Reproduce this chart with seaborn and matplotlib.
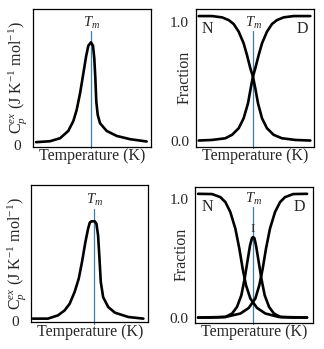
import matplotlib
matplotlib.use("Agg")
import matplotlib.pyplot as plt
import seaborn as sns

# ---------------- data ----------------
# Top-left: excess heat capacity, two-state transition
cp1_T = [2.3, 14.2, 22.7, 29.7, 34.0, 36.8, 39.7, 42.5, 44.8, 46.7, 49.0, 50.7, 51.8,
         52.7, 53.5, 54.7, 56.7, 62.3, 70.8, 82.2, 96.3]
cp1_val = [0.020, 0.027, 0.049, 0.103, 0.176, 0.257, 0.380, 0.527, 0.650, 0.730, 0.755,
           0.730, 0.637, 0.490, 0.319, 0.221, 0.159, 0.103, 0.066, 0.042, 0.025]
tm1 = 49.0

# Top-right: fractions N and D, two-state
fr1_N_T = [2.3, 13.6, 22.1, 27.8, 32.0, 36.3, 40.5, 43.3, 46.2, 48.4, 50.4, 52.7, 56.1,
           60.3, 66.0, 73.1, 84.4, 97.2]
fr1_N = [1.053, 1.053, 1.042, 1.019, 0.986, 0.921, 0.823, 0.725, 0.612, 0.542, 0.444,
         0.317, 0.191, 0.107, 0.051, 0.022, 0.008, 0.003]
fr1_D_T = [2.3, 13.6, 24.9, 30.6, 36.3, 40.5, 44.2, 46.5, 48.4, 50.4, 53.3, 56.1, 60.3,
           64.6, 68.8, 74.5, 83.0, 97.2]
fr1_D = [0.003, 0.008, 0.022, 0.051, 0.107, 0.191, 0.317, 0.444, 0.542, 0.612, 0.725,
         0.823, 0.921, 0.986, 1.019, 1.042, 1.053, 1.053]
tm2 = 48.4

# Bottom-left: excess heat capacity, three-state transition
cp2_T = [1.4, 14.3, 22.9, 28.6, 32.9, 37.1, 40.6, 43.4, 46.3, 48.6, 50.0, 51.4, 54.3,
         55.7, 57.1, 58.3, 59.4, 61.4, 65.7, 71.4, 82.9, 95.7]
cp2_val = [0.015, 0.015, 0.039, 0.076, 0.125, 0.211, 0.309, 0.432, 0.579, 0.677, 0.721,
           0.731, 0.731, 0.713, 0.628, 0.456, 0.285, 0.174, 0.101, 0.059, 0.027, 0.015]
tm3 = 53.4

# Bottom-right: fractions N, I and D, three-state
fr2_N_T = [2.3, 14.2, 21.3, 25.6, 29.8, 34.1, 37.5, 40.3, 43.2, 46.9, 52.6, 59.7, 71.0,
           82.4, 95.2]
fr2_N = [1.047, 1.045, 1.019, 0.977, 0.893, 0.753, 0.584, 0.416, 0.275, 0.163, 0.084,
         0.037, 0.008, 0.003, 0.003]
fr2_D_T = [2.3, 14.2, 25.6, 38.4, 45.5, 51.1, 54.5, 57.4, 60.2, 63.6, 67.9, 72.2, 76.4,
           83.5, 95.2]
fr2_D = [0.003, 0.003, 0.008, 0.037, 0.084, 0.163, 0.275, 0.416, 0.584, 0.753, 0.893,
         0.977, 1.019, 1.045, 1.047]
fr2_I_T = [2.3, 25.6, 31.3, 35.5, 39.2, 42.0, 44.3, 46.6, 48.3, 49.1, 50.3, 51.7, 54.0,
           56.3, 59.1, 62.8, 67.0, 72.7, 95.2]
fr2_I = [0.003, 0.008, 0.037, 0.093, 0.191, 0.331, 0.472, 0.612, 0.674, 0.682, 0.674,
         0.612, 0.472, 0.331, 0.191, 0.093, 0.037, 0.008, 0.003]
tm4 = 49.1

xlabel = "Temperature (K)"
cp_label = r"C$_p^{ex}$ (J K$^{-1}$ mol$^{-1}$)"
fr_label = "Fraction"
cp_ticks = [0]
cp_ticklabels = ["0"]
fr_ticks = [0.0, 1.0]
fr_ticklabels = ["0.0", "1.0"]

# ---------------- style ----------------
sns.set_style("white")
plt.rcParams["font.family"] = ["Liberation Serif", "DejaVu Serif"]
plt.rcParams["mathtext.fontset"] = "custom"
plt.rcParams["mathtext.rm"] = "Liberation Serif"
plt.rcParams["mathtext.it"] = "Liberation Serif:italic"

LINE = "black"
TMC = "#3a7fae"
LW = 1.9
FS = 11.5
TFS = 11

fig = plt.figure(figsize=(3.24, 3.49), dpi=100)
fig.patch.set_facecolor("white")

ax_tl = fig.add_axes([0.103, 0.580, 0.363, 0.394])
ax_tr = fig.add_axes([0.605, 0.580, 0.363, 0.394])
ax_bl = fig.add_axes([0.096, 0.0765, 0.362, 0.3925])
ax_br = fig.add_axes([0.603, 0.0755, 0.362, 0.3885])


def style(ax, ylim, ticks, ticklabels, ylab, ylab_x, tm, tm_top, tm_text_y, ylab_fs):
    ax.set_xlim(0, 100)
    ax.set_ylim(*ylim)
    ax.set_xticks([])
    ax.set_yticks(ticks)
    ax.set_yticklabels(ticklabels)
    ax.tick_params(axis="y", length=0, pad=5, labelsize=TFS)
    for s in ax.spines.values():
        s.set_visible(True)
        s.set_color("black")
        s.set_linewidth(0.9)
    ax.set_xlabel(xlabel, fontsize=FS, labelpad=1.0)
    ax.set_ylabel(ylab, fontsize=ylab_fs)
    ax.yaxis.label.set_va("center")
    ax.yaxis.set_label_coords(ylab_x, 0.5)
    ax.plot([tm, tm], [-0.012, tm_top], transform=ax.get_xaxis_transform(),
            color=TMC, lw=0.9, clip_on=False, zorder=1)
    ax.text(tm + 0.8, tm_text_y, r"$T_m$", transform=ax.get_xaxis_transform(),
            ha="center", va="center", fontsize=10.5)


# Top-left
sns.lineplot(x=cp1_T, y=cp1_val, ax=ax_tl, color=LINE, lw=LW, zorder=3)
style(ax_tl, (-0.0125, 1.0), cp_ticks, cp_ticklabels, cp_label, -0.13,
      tm1, 0.84, 0.896, 11.5)
ax_tl.tick_params(axis="y", pad=9)

# Top-right
sns.lineplot(x=fr1_N_T, y=fr1_N, ax=ax_tr, color=LINE, lw=LW, zorder=3)
sns.lineplot(x=fr1_D_T, y=fr1_D, ax=ax_tr, color=LINE, lw=LW, zorder=3)
style(ax_tr, (-0.048, 1.112), fr_ticks, fr_ticklabels, fr_label, -0.10,
      tm2, 0.84, 0.896, FS)
ax_tr.text(9.9, 0.944, "N", ha="center", va="center", fontsize=FS)
ax_tr.text(90.0, 0.944, "D", ha="center", va="center", fontsize=FS)

# Bottom-left
sns.lineplot(x=cp2_T, y=cp2_val, ax=ax_bl, color=LINE, lw=LW, zorder=3)
style(ax_bl, (-0.012, 0.996), cp_ticks, cp_ticklabels, cp_label, -0.12,
      tm3, 0.83, 0.89, 11.5)
ax_bl.tick_params(axis="y", pad=9)

# Bottom-right
sns.lineplot(x=fr2_N_T, y=fr2_N, ax=ax_br, color=LINE, lw=LW, zorder=3)
sns.lineplot(x=fr2_D_T, y=fr2_D, ax=ax_br, color=LINE, lw=LW, zorder=3)
sns.lineplot(x=fr2_I_T, y=fr2_I, ax=ax_br, color=LINE, lw=LW, zorder=3)
style(ax_br, (-0.04, 1.104), fr_ticks, fr_ticklabels, fr_label, -0.116,
      tm4, 0.85, 0.914, FS)
ax_br.text(10.0, 0.935, "N", ha="center", va="center", fontsize=FS)
ax_br.text(88.6, 0.935, "D", ha="center", va="center", fontsize=FS)
ax_br.text(49.1, 0.752, "I", ha="center", va="center", fontsize=9.5)

fig.savefig("out.png", dpi=100, facecolor="white")
